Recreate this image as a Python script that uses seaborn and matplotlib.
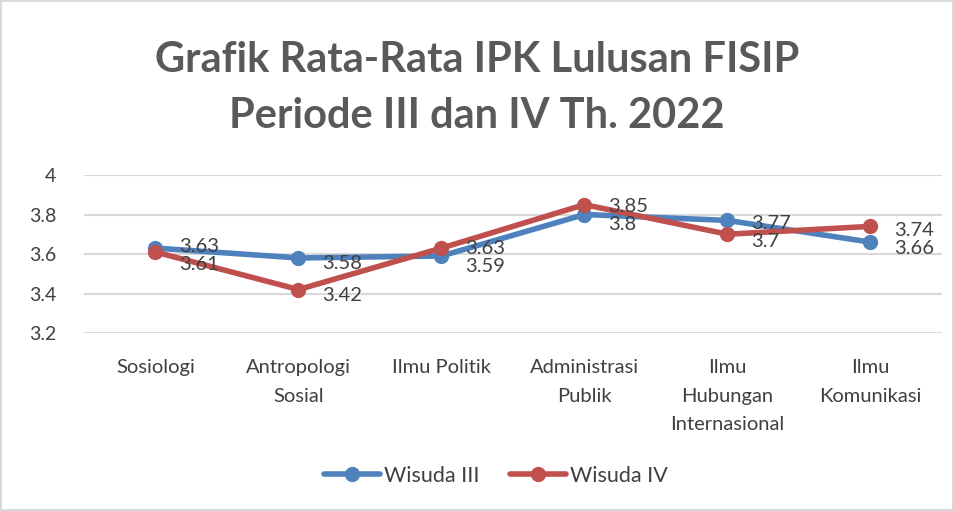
import pandas as pd
import matplotlib.pyplot as plt
import seaborn as sns

# Data
prodi = ['Sosiologi', 'Antropologi\nSosial', 'Ilmu Politik', 'Administrasi\nPublik',
         'Ilmu\nHubungan\nInternasional', 'Ilmu\nKomunikasi']
wisuda_iii = [3.63, 3.58, 3.59, 3.8, 3.77, 3.66]
wisuda_iv = [3.61, 3.42, 3.63, 3.85, 3.7, 3.74]
series_names = ['Wisuda III', 'Wisuda IV']
yticks = [3.2, 3.4, 3.6, 3.8, 4.0]
ytick_labels = ['3.2', '3.4', '3.6', '3.8', '4']

df = pd.DataFrame({
    'Prodi': prodi * 2,
    'IPK': wisuda_iii + wisuda_iv,
    'Wisuda': [series_names[0]] * len(prodi) + [series_names[1]] * len(prodi),
})

sns.set_style('white')
plt.rcParams['font.family'] = ['Lato', 'DejaVu Sans']
txt = '#404040'

fig = plt.figure(figsize=(9.54, 5.11), dpi=100)
fig.patch.set_edgecolor('#D9D9D9')
fig.patch.set_linewidth(1.5)
ax = fig.add_axes([84 / 954, 1 - 333 / 511, 858 / 954, 158 / 511])

palette = {'Wisuda III': '#4F81BD', 'Wisuda IV': '#C0504D'}
sns.lineplot(data=df, x='Prodi', y='IPK', hue='Wisuda', palette=palette,
             marker='o', markersize=11, markeredgewidth=0, linewidth=4,
             sort=False, ax=ax)

ax.set_xlim(-0.5, len(prodi) - 0.5)
ax.set_ylim(3.2, 4.0)
ax.set_yticks(yticks)
ax.set_yticklabels(ytick_labels)
ax.grid(axis='y', color='#D9D9D9', linewidth=1.5)
ax.set_axisbelow(True)
for s in ax.spines.values():
    s.set_visible(False)
ax.tick_params(axis='y', length=0, pad=20, labelsize=14, labelcolor=txt)
ax.tick_params(axis='x', length=0, pad=19, labelsize=14.5, labelcolor=txt)
for lbl in ax.get_xticklabels():
    lbl.set_linespacing(1.8)
ax.set_xlabel('')
ax.set_ylabel('')

# data labels, nudged apart a little where the two series nearly touch
pt_per_unit = 158 / 0.8 / (100 / 72)
need = 13
for i in range(len(prodi)):
    a, b = wisuda_iii[i], wisuda_iv[i]
    gap = abs(a - b) * pt_per_unit
    extra = max(0, (need - gap) / 2)
    for v, other in [(a, b), (b, a)]:
        dy = -4 + (extra if v >= other else -extra)
        ax.annotate(f'{v:g}', (i, v), xytext=(17, dy), textcoords='offset points',
                    ha='left', va='center', fontsize=14.5, color=txt)

fig.text(0.5, 1 - 88 / 511, 'Grafik Rata-Rata IPK Lulusan FISIP\nPeriode III dan IV Th. 2022',
         ha='center', va='center', fontsize=30, fontweight='bold', color='#595959',
         linespacing=1.6)

handles, labels = ax.get_legend_handles_labels()
ax.legend(handles, labels, loc='center', bbox_to_anchor=(496 / 954, 1 - 476 / 511),
          bbox_transform=fig.transFigure, ncol=2, frameon=False, fontsize=15.5,
          handlelength=2.6, handletextpad=0.2, columnspacing=1.4, labelcolor=txt)

fig.savefig('out.png', dpi=100)
